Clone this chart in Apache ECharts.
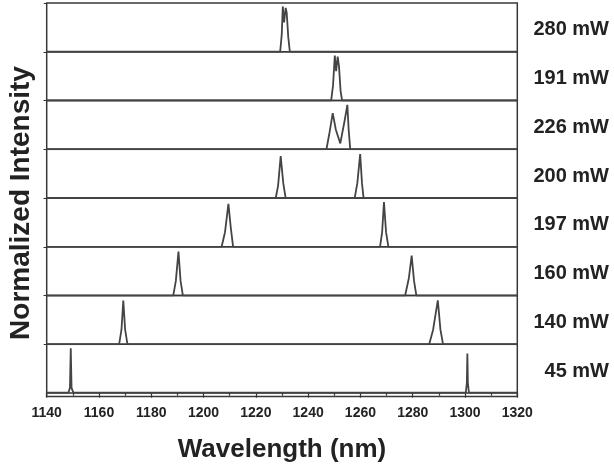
<!DOCTYPE html>
<html>
<head>
<meta charset="utf-8">
<script src="https://cdn.jsdelivr.net/npm/echarts@6/dist/echarts.min.js"></script>
<style>
  html, body { margin: 0; padding: 0; background: #fff; }
  #spectra { width: 614px; height: 469px; }
</style>
</head>
<body>
<div id="spectra"></div>
<script>
// pump powers, top panel first
var powers = ['280 mW', '191 mW', '226 mW', '200 mW', '197 mW', '160 mW', '140 mW', '45 mW'];

// [wavelength (nm), normalized intensity]
var p280 = [[1140, 0], [1229.3, 0], [1229.9, 0.35], [1230.3, 0.93], [1230.8, 0.6], [1231.4, 0.9], [1231.8, 0.8], [1232.4, 0.3], [1233, 0], [1320, 0]];
var p191 = [[1140, 0], [1248.8, 0], [1249.5, 0.3], [1250.2, 0.92], [1250.7, 0.6], [1251.3, 0.9], [1251.8, 0.7], [1252.4, 0.2], [1253, 0], [1320, 0]];
var p226 = [[1140, 0], [1247, 0], [1248.2, 0.35], [1249.4, 0.74], [1250.6, 0.4], [1252.3, 0.12], [1252.8, 0.15], [1254, 0.6], [1255, 0.91], [1255.5, 0.4], [1256.1, 0], [1320, 0]];
var p200 = [[1140, 0], [1227.6, 0], [1228.5, 0.25], [1229.5, 0.86], [1230.5, 0.3], [1231.4, 0], [1257.8, 0], [1258.8, 0.3], [1259.9, 0.9], [1260.6, 0.3], [1261.2, 0], [1320, 0]];
var p197 = [[1140, 0], [1206.9, 0], [1208.2, 0.3], [1209.5, 0.88], [1210.4, 0.4], [1211.3, 0], [1267.5, 0], [1268.3, 0.3], [1269, 0.92], [1269.8, 0.3], [1270.7, 0], [1320, 0]];
var p160 = [[1140, 0], [1188.4, 0], [1189.4, 0.3], [1190.4, 0.9], [1191.2, 0.3], [1192.1, 0], [1277.1, 0], [1278.5, 0.35], [1279.6, 0.82], [1280.5, 0.3], [1281.4, 0], [1320, 0]];
var p140 = [[1140, 0], [1167.7, 0], [1168.6, 0.3], [1169.3, 0.9], [1170, 0.3], [1170.9, 0], [1286.3, 0], [1287.8, 0.3], [1289.6, 0.9], [1290.6, 0.3], [1291.6, 0], [1320, 0]];
var p45  = [[1140, 0], [1148.3, 0], [1148.9, 0.1], [1149.2, 0.92], [1149.5, 0.1], [1150.2, 0], [1300.3, 0], [1300.7, 0.2], [1300.9, 0.81], [1301.1, 0.2], [1301.5, 0], [1320, 0]];

var spectra = [p280, p191, p226, p200, p197, p160, p140, p45];

var xMin = 1140, xMax = 1320, xStep = 20;

var myChart = echarts.init(document.getElementById('spectra'));

// panel layout
var left = 46.7, right = 96.7, top0 = 3, panelH = 48.76, lastH = 52.2;

var grids = [], xAxes = [], yAxes = [], series = [], graphics = [];

for (var i = 0; i < spectra.length; i++) {
    var last = (i === spectra.length - 1);
    var gTop = top0 + i * panelH;
    var gH = last ? lastH : panelH;
    grids.push({
        left: left, right: right, top: gTop, height: gH,
        show: true, borderColor: '#383838', borderWidth: 1.5,
        backgroundColor: 'transparent'
    });
    xAxes.push({
        gridIndex: i, type: 'value', min: xMin, max: xMax, interval: xStep,
        show: last,
        axisLine: { show: true, lineStyle: { color: '#333', width: 1.5 } },
        axisTick: { show: true, length: 5, lineStyle: { color: '#333', width: 1.2 } },
        minorTick: { show: true, splitNumber: 2, length: 3, lineStyle: { color: '#333', width: 1.2 } },
        splitLine: { show: false },
        axisLabel: {
            color: '#222', fontSize: 14, fontWeight: 'bold', fontFamily: 'Liberation Sans', margin: 10,
            formatter: function (v) { return String(v); }
        },
        name: last ? 'Wavelength (nm)' : '',
        nameLocation: 'middle', nameGap: 40,
        nameTextStyle: { color: '#222', fontSize: 26, fontWeight: 'bold', fontFamily: 'Liberation Sans' }
    });
    yAxes.push({
        gridIndex: i, type: 'value', min: last ? -0.08 : 0, max: 1, interval: 1,
        axisLine: { show: false },
        axisTick: { show: !last, length: 3, lineStyle: { color: '#333' } },
        axisLabel: { show: false },
        splitLine: { show: false }
    });
    series.push({
        name: powers[i], type: 'line', xAxisIndex: i, yAxisIndex: i,
        data: spectra[i], showSymbol: false,
        lineStyle: { color: '#444', width: 1.8 }
    });
    var baseY = last ? gTop + gH - 0.08 * (gH / 1.08) : gTop + gH;
    graphics.push({
        type: 'text', right: 5, top: (gTop + baseY) / 2 + 2.5 - 10,
        style: { text: powers[i], fill: '#222', font: 'bold 20px "Liberation Sans"' }
    });
}

graphics.push({
    type: 'text', x: 21, y: top0 + 200, rotation: Math.PI / 2,
    style: {
        text: 'Normalized Intensity', fill: '#222',
        font: 'bold 28px "Liberation Sans"', align: 'center', verticalAlign: 'middle'
    }
});

option = {
    animation: false,
    backgroundColor: '#fff',
    grid: grids,
    xAxis: xAxes,
    yAxis: yAxes,
    graphic: graphics,
    series: series
};

myChart.setOption(option);
</script>
</body>
</html>
